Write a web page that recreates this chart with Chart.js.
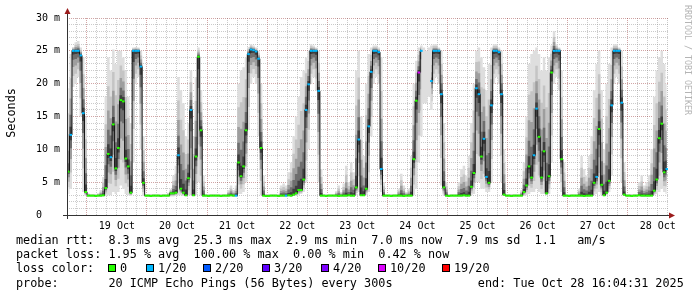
<!DOCTYPE html>
<html>
<head>
<meta charset="utf-8">
<title>Latency - last 10 days</title>
<script src="https://cdn.jsdelivr.net/npm/chart.js@4.4.1/dist/chart.umd.min.js"></script>
<style>
  html, body { margin: 0; padding: 0; background: #fff; }
  #wrap { position: relative; width: 697px; height: 297px; overflow: hidden; }
  #chart { position: absolute; left: 0; top: 0; }
  .t { position: absolute; white-space: pre; color: #000; font: 11.8px/14px "DejaVu Sans Mono", monospace; }
  .box { position: absolute; width: 8px; height: 8px; box-sizing: border-box; border: 1px solid #000; }
</style>
</head>
<body>
<div id="wrap">
  <canvas id="chart" width="697" height="297"></canvas>

  <span class="t" style="left:16px;top:233px">median rtt:</span>
  <span class="t" style="left:108.4px;top:233px">8.3 ms avg</span>
  <span class="t" style="left:193.6px;top:233px">25.3 ms max</span>
  <span class="t" style="left:286px;top:233px">2.9 ms min</span>
  <span class="t" style="left:371.2px;top:233px">7.0 ms now</span>
  <span class="t" style="left:456.5px;top:233px">7.9 ms sd</span>
  <span class="t" style="left:534.6px;top:233px">1.1</span>
  <span class="t" style="left:577.2px;top:233px">am/s</span>

  <span class="t" style="left:16px;top:247px">packet loss:</span>
  <span class="t" style="left:108.4px;top:247px">1.95 % avg</span>
  <span class="t" style="left:193.6px;top:247px">100.00 % max</span>
  <span class="t" style="left:293.1px;top:247px">0.00 % min</span>
  <span class="t" style="left:378.3px;top:247px">0.42 % now</span>

  <span class="t" style="left:16px;top:261px">loss color:</span>
  <div id="lossLegend"></div>

  <span class="t" style="left:16px;top:275.5px">probe:</span>
  <span class="t" style="left:108.4px;top:275.5px">20 ICMP Echo Pings (56 Bytes) every 300s</span>
  <span class="t" style="left:477.8px;top:275.5px">end: Tue Oct 28 16:04:31 2025</span>
</div>

<script>
// Smokeping style latency graph, 10 days ending Tue Oct 28 16:04:31 2025
// one sample per hour, sample 0 starts Oct 18 16:04:31

// hours from the start of the graph to midnight of Oct 19
const firstMidnight = 7 + 55 / 60 + 29 / 3600;
const spanHours = 240;

const dayLabels = ['19 Oct', '20 Oct', '21 Oct', '22 Oct', '23 Oct', '24 Oct', '25 Oct', '26 Oct', '27 Oct', '28 Oct'];

const yLabelValues = [0, 5, 10, 15, 20, 25, 30];
const yLabelTexts = ['0   ', '5 m', '10 m', '15 m', '20 m', '25 m', '30 m'];

// median round trip time (ms)
const medianRtt = [
    6.6, 12.2, 25.0, 25.0, 25.0, 24.3, 15.5, 3.5, 2.95, 2.95,
    2.95, 2.9, 2.95, 2.95, 3.0, 4.1, 9.3, 8.8, 13.8, 7.1,
    10.2, 17.5, 17.3, 8.6, 7.4, 3.4, 25.0, 25.0, 25.0, 22.6,
    4.9, 2.95, 2.95, 2.9, 2.95, 2.95, 2.95, 2.9, 2.95, 2.95,
    2.95, 3.3, 3.3, 3.4, 9.1, 4.0, 3.4, 3.0, 5.6, 16.0,
    3.0, 8.9, 24.1, 12.9, 2.95, 2.95, 2.9, 2.95, 2.95, 2.95,
    2.95, 2.9, 2.95, 2.95, 2.95, 3.0, 2.95, 2.95, 8.0, 5.9,
    7.4, 12.9, 24.5, 25.2, 25.1, 24.9, 23.8, 10.2, 2.95, 2.9,
    2.9, 2.95, 2.95, 2.95, 2.9, 2.95, 2.95, 2.95, 3.0, 2.95,
    3.1, 3.3, 3.8, 3.8, 5.4, 16.0, 19.9, 25.0, 25.0, 25.0,
    18.9, 2.95, 2.95, 2.9, 2.95, 2.95, 2.95, 2.95, 2.9, 2.95,
    2.95, 2.95, 3.0, 2.95, 2.95, 4.2, 11.5, 3.0, 3.0, 4.0,
    13.5, 21.8, 25.0, 25.0, 24.8, 7.0, 2.95, 2.95, 2.95, 2.9,
    2.95, 2.95, 2.95, 2.95, 2.9, 2.95, 2.95, 2.95, 8.5, 17.4,
    21.7, 25.0, null, null, null, 20.4, 25.0, 25.0, 25.0, 18.4,
    4.2, 2.95, 2.9, 2.95, 2.95, 2.95, 2.95, 2.95, 3.0, 2.95,
    2.95, 4.3, 6.4, 19.3, 18.4, 8.9, 11.6, 5.8, 4.9, 16.7,
    25.0, 25.0, 24.8, 18.4, 3.1, 2.95, 2.95, 2.9, 2.95, 2.95,
    2.95, 2.95, 3.5, 4.5, 7.4, 5.7, 9.1, 16.2, 11.9, 5.7,
    9.7, 3.3, 5.9, 21.7, 25.0, 25.0, 25.0, 8.5, 2.95, 2.95,
    2.9, 2.95, 2.95, 2.95, 2.95, 2.95, 2.9, 2.95, 2.95, 2.95,
    4.9, 5.8, 13.1, 4.6, 3.0, 3.4, 5.2, 16.7, 25.0, 25.0,
    25.0, 17.1, 3.1, 2.95, 2.95, 2.9, 2.95, 2.95, 3.0, 2.95,
    2.95, 2.95, 2.95, 2.95, 3.7, 5.4, 11.7, 13.9, 6.5, 7.0
];

// lost pings out of 20
const lostPings = [
    0, 1, 1, 1, 1, 1, 1, 0, 0, 0,
    0, 0, 0, 0, 0, 0, 0, 1, 0, 0,
    0, 0, 0, 0, 0, 0, 1, 1, 1, 1,
    0, 0, 0, 0, 0, 0, 0, 0, 0, 0,
    0, 0, 0, 0, 1, 0, 0, 0, 0, 1,
    0, 0, 0, 0, 0, 0, 0, 0, 0, 0,
    0, 0, 0, 0, 0, 0, 0, 1, 0, 0,
    0, 0, 1, 1, 1, 1, 1, 0, 0, 0,
    0, 0, 0, 0, 0, 0, 0, 1, 0, 0,
    0, 0, 0, 0, 0, 1, 1, 1, 1, 1,
    1, 0, 0, 0, 0, 0, 0, 0, 0, 0,
    0, 0, 0, 0, 0, 0, 1, 0, 0, 0,
    1, 1, 1, 1, 1, 1, 0, 0, 0, 0,
    0, 0, 0, 0, 0, 0, 0, 0, 0, 0,
    10, 1, 20, 20, 20, 1, 1, 1, 1, 1,
    0, 0, 0, 0, 0, 0, 0, 0, 0, 0,
    0, 0, 0, 1, 1, 0, 1, 1, 0, 1,
    1, 1, 1, 1, 0, 0, 0, 0, 0, 0,
    0, 0, 0, 0, 0, 0, 1, 1, 0, 0,
    0, 0, 0, 0, 1, 1, 1, 0, 0, 0,
    0, 0, 0, 0, 0, 0, 0, 0, 0, 0,
    0, 1, 0, 0, 0, 0, 0, 1, 1, 1,
    1, 1, 0, 0, 0, 0, 0, 0, 0, 0,
    0, 0, 0, 0, 0, 0, 0, 0, 0, 1
];

// fastest and slowest ping of each sample (ms), the smoke
const smokeLo = [
    3.2, 4.0, 19.5, 20.0, 21.0, 15.0, 3.5, 2.9, 2.8, 2.8,
    2.8, 2.8, 2.8, 2.8, 2.8, 2.9, 3.0, 3.0, 3.5, 3.2,
    3.5, 4.5, 4.0, 3.2, 3.0, 2.9, 8.0, 20.0, 21.0, 10.0,
    2.9, 2.8, 2.8, 2.8, 2.8, 2.8, 2.8, 2.8, 2.8, 2.8,
    2.8, 2.8, 2.8, 2.9, 3.0, 3.0, 2.9, 2.9, 3.0, 3.0,
    2.9, 3.0, 5.0, 3.0, 2.8, 2.8, 2.8, 2.8, 2.8, 2.8,
    2.8, 2.8, 2.8, 2.8, 2.8, 2.8, 2.8, 2.9, 3.2, 3.2,
    3.5, 5.0, 13.0, 20.0, 21.0, 20.0, 12.0, 3.0, 2.8, 2.8,
    2.8, 2.8, 2.8, 2.8, 2.8, 2.8, 2.8, 2.8, 2.8, 2.8,
    2.9, 2.9, 3.0, 3.2, 3.5, 5.0, 10.0, 20.0, 21.0, 19.0,
    5.0, 2.8, 2.8, 2.8, 2.8, 2.8, 2.8, 2.8, 2.8, 2.8,
    2.8, 2.8, 2.8, 2.8, 2.8, 3.0, 3.5, 2.9, 2.9, 3.0,
    3.5, 12.0, 20.0, 21.0, 20.0, 3.5, 2.8, 2.8, 2.8, 2.8,
    2.8, 2.8, 2.8, 2.8, 2.8, 2.8, 2.8, 2.9, 3.0, 4.0,
    8.0, 12.0, 17.0, 17.0, 18.0, 16.0, 20.0, 21.0, 20.0, 4.5,
    2.9, 2.8, 2.8, 2.8, 2.8, 2.8, 2.8, 2.8, 2.8, 2.8,
    2.9, 3.0, 3.2, 5.0, 5.0, 4.0, 4.0, 3.5, 3.5, 5.0,
    20.0, 21.0, 20.0, 5.0, 2.9, 2.8, 2.8, 2.8, 2.8, 2.8,
    2.8, 2.8, 2.9, 3.0, 3.2, 3.5, 3.5, 4.0, 3.5, 3.2,
    3.2, 3.0, 3.2, 8.0, 20.0, 21.0, 19.0, 3.5, 2.8, 2.8,
    2.8, 2.8, 2.8, 2.8, 2.8, 2.8, 2.8, 2.8, 2.8, 2.9,
    3.0, 3.2, 3.5, 3.0, 2.9, 3.0, 3.5, 6.0, 20.0, 21.0,
    20.0, 5.0, 2.9, 2.8, 2.8, 2.8, 2.8, 2.8, 2.8, 2.8,
    2.8, 2.8, 2.8, 2.9, 3.0, 3.2, 3.5, 4.0, 3.5, 3.2
];

const smokeHi = [
    19.3, 24.5, 25.6, 26.3, 26.5, 25.5, 24.0, 15.0, 3.3, 3.2,
    3.2, 3.2, 3.3, 3.8, 5.8, 18.0, 24.0, 22.0, 25.2, 23.0,
    25.0, 25.0, 24.0, 22.0, 18.0, 14.0, 25.5, 25.6, 25.5, 25.0,
    12.0, 3.2, 3.2, 3.2, 3.2, 3.2, 3.2, 3.2, 3.2, 3.2,
    3.4, 4.0, 6.0, 7.5, 21.0, 19.0, 17.0, 12.0, 14.0, 22.0,
    12.0, 21.0, 25.5, 19.0, 6.0, 3.2, 3.2, 3.2, 3.2, 3.2,
    3.2, 3.2, 3.2, 3.2, 3.8, 4.5, 3.8, 4.5, 20.0, 22.0,
    22.5, 24.0, 25.6, 26.0, 25.8, 25.5, 25.0, 20.0, 6.0, 3.2,
    3.2, 3.2, 3.2, 3.2, 3.2, 4.5, 4.8, 4.5, 6.5, 8.0,
    12.0, 15.0, 18.0, 21.0, 22.0, 24.0, 25.0, 26.0, 25.8, 25.5,
    25.0, 7.0, 3.2, 3.2, 3.2, 3.2, 3.2, 3.6, 4.5, 3.5,
    4.8, 7.5, 5.0, 8.0, 6.5, 22.0, 25.0, 15.0, 9.0, 20.0,
    24.5, 25.5, 25.8, 25.8, 25.5, 24.0, 5.0, 3.2, 3.2, 3.2,
    3.2, 3.2, 4.0, 6.3, 4.5, 3.5, 4.0, 9.0, 20.0, 23.5,
    25.5, 25.8, 25.5, 25.0, 25.5, 25.8, 26.0, 26.0, 25.5, 25.0,
    14.0, 5.0, 3.2, 3.2, 3.2, 3.2, 5.0, 7.0, 7.5, 6.0,
    9.0, 14.0, 20.0, 25.0, 25.5, 24.0, 22.5, 19.0, 23.0, 25.5,
    26.0, 26.0, 25.5, 25.0, 10.0, 3.2, 3.2, 3.2, 3.2, 3.2,
    3.2, 3.8, 8.0, 15.0, 23.0, 24.5, 25.0, 25.5, 24.5, 22.0,
    24.0, 22.0, 24.0, 25.8, 28.0, 26.0, 25.5, 22.0, 8.0, 3.2,
    3.2, 3.2, 3.2, 3.2, 4.0, 9.0, 7.0, 6.0, 9.0, 12.0,
    19.0, 23.0, 25.0, 19.0, 10.0, 20.0, 23.0, 25.5, 26.0, 26.0,
    25.5, 25.0, 8.0, 3.2, 3.2, 3.2, 3.2, 3.2, 5.0, 6.0,
    4.5, 5.0, 6.0, 10.0, 18.0, 22.0, 24.0, 25.0, 23.0, 20.0
];

// loss color legend
const lossLevels = [0, 1, 2, 3, 4, 10, 19];
const lossLabels = ['0', '1/20', '2/20', '3/20', '4/20', '10/20', '19/20'];
const lossColors = ['#26ff00', '#00b8ff', '#0059ff', '#5e00ff', '#7e00ff', '#dd00ff', '#ff0000'];

// layout of the legend boxes
const lossBoxLeft = [108, 146, 203, 262, 321, 378, 442];

// smoke shading, outer to inner (fraction of the spread around the median)
const smokeShades = [
    { f: 1.0, color: '#dedede' },
    { f: 0.7, color: '#c4c4c4' },
    { f: 0.45, color: '#9e9e9e' },
    { f: 0.25, color: '#6e6e6e' },
    { f: 0.1, color: '#3e3e3e' }
];

const minorGrid = 'rgba(140,140,140,0.45)';
const majorGrid = 'rgba(140,30,30,0.4)';
const tickFont = { family: 'DejaVu Sans Mono', size: 10 };

function lossColor(n) {
    let c = lossColors[0];
    lossLevels.forEach((lvl, i) => { if (n >= lvl) c = lossColors[i]; });
    return c;
}

function isMidnight(v) {
    const d = (v - firstMidnight) / 24;
    return Math.abs(d - Math.round(d)) < 1e-6;
}

function dayLabelAt(v) {
    const d = (v - firstMidnight - 12) / 24;
    const k = Math.round(d);
    if (Math.abs(d - k) < 1e-6 && k >= 0 && k < dayLabels.length) return dayLabels[k];
    return '';
}

function shadeEdge(i, f, side) {
    if (f === 1) return side > 0 ? smokeHi[i] : smokeLo[i];
    const m = medianRtt[i];
    if (m === null) return null;
    return side > 0 ? m + f * (smokeHi[i] - m) : m - f * (m - smokeLo[i]);
}

function series(fn) {
    return medianRtt.map((_, i) => ({ x: i + 0.5, y: fn(i) }));
}

function buildDatasets() {
    const sets = [];

    // loss coloured median marks (drawn on top)
    sets.push({
        data: series(i => medianRtt[i]),
        showLine: false,
        pointStyle: 'line',
        pointRadius: 1.3,
        pointBorderWidth: 2,
        pointBorderColor: medianRtt.map((_, i) => lossColor(lostPings[i])),
        pointBackgroundColor: 'transparent'
    });

    // median line
    sets.push({
        data: series(i => medianRtt[i]),
        borderColor: '#161616',
        borderWidth: 1,
        stepped: 'middle',
        pointRadius: 0,
        spanGaps: false
    });

    // smoke, inner first so the outer band ends up underneath
    for (let s = smokeShades.length - 1; s >= 0; s--) {
        const shade = smokeShades[s];
        sets.push({
            data: series(i => shadeEdge(i, shade.f, 1)),
            borderWidth: 0, pointRadius: 0, stepped: 'middle', fill: false
        });
        sets.push({
            data: series(i => shadeEdge(i, shade.f, -1)),
            borderWidth: 0, pointRadius: 0, stepped: 'middle',
            fill: '-1', backgroundColor: shade.color
        });
    }
    return sets;
}

// axes with arrows, vertical title and watermark
const framePlugin = {
    id: 'frame',
    afterDraw(chart) {
        const { ctx, chartArea: a } = chart;
        ctx.save();
        ctx.strokeStyle = '#333';
        ctx.lineWidth = 1;
        ctx.beginPath();
        ctx.moveTo(a.left - 4, a.bottom + 0.5);
        ctx.lineTo(a.right + 2, a.bottom + 0.5);
        ctx.moveTo(a.left + 0.5, a.bottom + 4);
        ctx.lineTo(a.left + 0.5, a.top - 5);
        ctx.stroke();

        ctx.fillStyle = '#9b1c1c';
        ctx.beginPath();
        ctx.moveTo(a.left + 0.5, a.top - 10);
        ctx.lineTo(a.left - 2.5, a.top - 4);
        ctx.lineTo(a.left + 3.5, a.top - 4);
        ctx.closePath();
        ctx.fill();
        ctx.beginPath();
        ctx.moveTo(a.right + 7, a.bottom + 0.5);
        ctx.lineTo(a.right + 1, a.bottom - 2.5);
        ctx.lineTo(a.right + 1, a.bottom + 3.5);
        ctx.closePath();
        ctx.fill();

        ctx.fillStyle = '#000';
        ctx.font = '11.8px "DejaVu Sans Mono"';
        ctx.textAlign = 'center';
        ctx.textBaseline = 'alphabetic';
        ctx.translate(15, 113);
        ctx.rotate(-Math.PI / 2);
        ctx.fillText('Seconds', 0, 0);
        ctx.restore();

        ctx.save();
        ctx.fillStyle = '#b4b4b4';
        ctx.font = '8.3px "DejaVu Sans Mono"';
        ctx.textAlign = 'left';
        ctx.textBaseline = 'alphabetic';
        ctx.translate(684.5, 5);
        ctx.rotate(Math.PI / 2);
        ctx.fillText('RRDTOOL / TOBI OETIKER', 0, 0);
        ctx.restore();
    }
};

function initLossLegend() {
    const host = document.getElementById('lossLegend');
    lossLabels.forEach((label, i) => {
        const box = document.createElement('div');
        box.className = 'box';
        box.style.left = lossBoxLeft[i] + 'px';
        box.style.top = '264px';
        box.style.background = lossColors[i];
        host.appendChild(box);

        const txt = document.createElement('span');
        txt.className = 't';
        txt.style.left = (lossBoxLeft[i] + 12) + 'px';
        txt.style.top = '261px';
        txt.textContent = label;
        host.appendChild(txt);
    });
}

function initChart() {
    const ctx = document.getElementById('chart');

    new Chart(ctx, {
        type: 'line',
        data: { datasets: buildDatasets() },
        options: {
            responsive: false,
            animation: false,
            events: [],
            layout: { padding: { left: 0, right: 29, top: 18, bottom: 62 } },
            plugins: {
                legend: { display: false },
                tooltip: { enabled: false }
            },
            scales: {
                x: {
                    type: 'linear',
                    min: 0,
                    max: spanHours,
                    z: 1,
                    afterBuildTicks: scale => {
                        const ticks = [];
                        for (let v = firstMidnight - 4; v < spanHours; v += 4) ticks.push({ value: v });
                        scale.ticks = ticks;
                    },
                    afterFit: scale => { scale.height = 20; },
                    grid: {
                        color: c => (c.tick && isMidnight(c.tick.value)) ? majorGrid : minorGrid,
                        lineWidth: 1,
                        drawTicks: false
                    },
                    border: { display: false, dash: [1, 1] },
                    ticks: {
                        autoSkip: false,
                        maxRotation: 0,
                        padding: 5,
                        color: '#000',
                        font: tickFont,
                        callback: v => dayLabelAt(v)
                    }
                },
                y: {
                    min: 0,
                    max: 30,
                    z: 1,
                    afterBuildTicks: scale => {
                        const ticks = [];
                        for (let v = 0; v <= 30; v++) ticks.push({ value: v });
                        scale.ticks = ticks;
                    },
                    afterFit: scale => { scale.width = 67; },
                    grid: {
                        color: c => (c.tick && c.tick.value % 5 === 0) ? majorGrid : minorGrid,
                        lineWidth: 1,
                        drawTicks: false
                    },
                    border: { display: false, dash: [1, 1] },
                    ticks: {
                        autoSkip: false,
                        padding: 7,
                        color: '#000',
                        font: tickFont,
                        callback: v => {
                            const k = yLabelValues.indexOf(v);
                            return k >= 0 ? yLabelTexts[k] : '';
                        }
                    }
                }
            }
        },
        plugins: [framePlugin]
    });
}

document.addEventListener('DOMContentLoaded', () => {
    initLossLegend();
    initChart();
});
</script>
</body>
</html>
